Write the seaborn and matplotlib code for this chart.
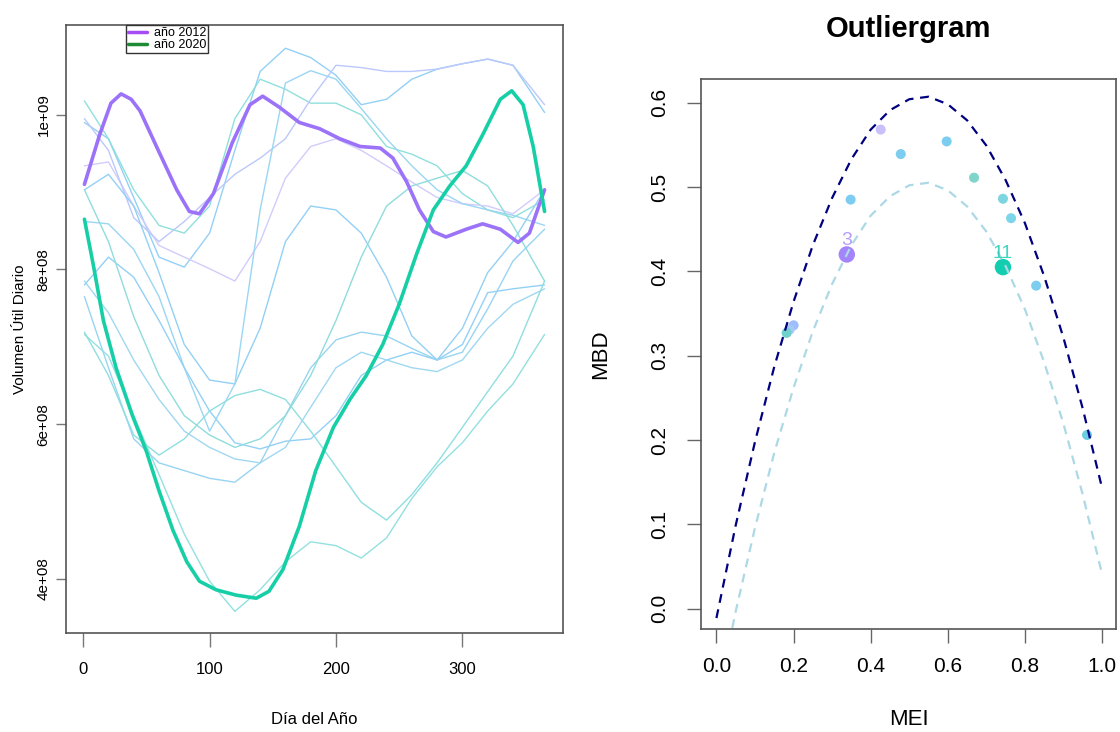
import numpy as np
import pandas as pd
import seaborn as sns
import matplotlib.pyplot as plt
from matplotlib.lines import Line2D

sns.set_theme(style="white")
plt.rcParams['font.family'] = ['Liberation Sans', 'DejaVu Sans']
plt.rcParams['text.color'] = 'black'
plt.rcParams['axes.labelcolor'] = 'black'
plt.rcParams['lines.solid_joinstyle'] = 'round'

# ---- datos: curvas diarias (valores en 1e8) ----
dias = [1, 20, 40, 60, 80, 100, 120, 140, 160, 180, 200, 220, 240, 260, 280, 300, 320, 340, 365]

curvas = {
    'c01': [9.90, 9.69, 8.93, 8.16, 8.03, 8.47, 9.54, 10.56, 10.86, 10.74, 10.51, 10.13, 10.20, 10.46, 10.59, 10.66, 10.72, 10.64, 10.03],
    'c02': [10.18, 9.69, 9.03, 8.57, 8.47, 8.82, 9.95, 10.46, 10.33, 10.15, 10.15, 10.00, 9.59, 9.49, 9.34, 8.98, 8.77, 8.67, 8.90],
    'c03': [9.34, 9.39, 8.82, 8.31, 8.16, 8.01, 7.85, 8.36, 9.18, 9.59, 9.69, 9.54, 9.34, 9.13, 8.93, 8.85, 8.82, 8.72, 9.03],
    'c04': [9.95, 9.54, 8.67, 8.36, 8.62, 8.93, 9.23, 9.44, 9.69, 10.20, 10.64, 10.61, 10.56, 10.56, 10.59, 10.66, 10.72, 10.64, 10.13],
    'c05': [9.03, 9.23, 8.82, 7.96, 7.03, 6.57, 6.52, 7.24, 8.36, 8.82, 8.77, 8.47, 7.90, 7.14, 6.83, 7.03, 7.70, 7.75, 7.80],
    'c06': [8.62, 8.59, 8.26, 7.65, 6.73, 5.91, 6.52, 8.77, 10.41, 10.57, 10.46, 10.08, 9.69, 9.34, 9.03, 8.85, 8.77, 8.70, 8.57],
    'c07': [7.16, 6.88, 6.11, 5.35, 4.58, 3.97, 3.58, 3.86, 4.22, 4.48, 4.43, 4.27, 4.53, 5.04, 5.45, 5.76, 6.17, 6.52, 7.16],
    'c08': [7.65, 6.73, 5.81, 5.50, 5.40, 5.30, 5.25, 5.50, 6.11, 6.73, 7.09, 7.19, 7.14, 6.98, 6.83, 6.93, 7.49, 8.11, 8.52],
    'c09': [7.80, 8.16, 7.90, 7.34, 6.73, 6.17, 5.76, 5.68, 5.78, 5.81, 6.11, 6.63, 6.83, 6.93, 6.83, 7.24, 7.96, 8.36, 9.03],
    'c10': [7.19, 6.63, 5.86, 5.60, 5.81, 6.17, 6.37, 6.45, 6.32, 5.91, 5.45, 4.99, 4.76, 5.09, 5.50, 5.96, 6.42, 6.88, 7.85],
    'c11': [7.85, 7.44, 6.83, 6.32, 5.91, 5.70, 5.55, 5.50, 5.70, 6.22, 6.73, 6.93, 6.83, 6.73, 6.68, 6.83, 7.24, 7.55, 7.75],
    'c12': [9.03, 8.36, 7.39, 6.63, 6.11, 5.86, 5.70, 5.81, 6.11, 6.63, 7.34, 8.16, 8.82, 9.08, 9.18, 9.28, 9.08, 8.57, 7.85],
}
colores_curvas = {
    'c01': '#93d0f5', 'c02': '#8fe0dc', 'c03': '#d2ccfc', 'c04': '#bcc8fb',
    'c05': '#93d0f5', 'c06': '#9ad6f3', 'c07': '#93e0e0', 'c08': '#98d4f2',
    'c09': '#93d0f5', 'c10': '#8fdee0', 'c11': '#9fd8f0', 'c12': '#8fdcdc',
}

dias_2012 = [1, 13, 22, 30, 38, 45, 58, 74, 84, 92, 103, 118, 132, 142, 155, 171, 187, 203, 219, 235, 245, 256, 266, 277, 287, 303, 316, 330, 344, 353, 365]
vol_2012 = [9.10, 9.74, 10.15, 10.27, 10.20, 10.05, 9.59, 9.03, 8.75, 8.72, 8.98, 9.64, 10.13, 10.24, 10.10, 9.90, 9.82, 9.69, 9.59, 9.57, 9.44, 9.13, 8.77, 8.49, 8.42, 8.52, 8.59, 8.52, 8.35, 8.47, 9.03]

dias_2020 = [1, 8, 16, 26, 39, 50, 60, 71, 82, 92, 105, 121, 137, 147, 158, 171, 184, 198, 211, 224, 237, 250, 264, 277, 290, 303, 316, 330, 339, 348, 356, 365]
vol_2020 = [8.65, 8.06, 7.34, 6.73, 6.11, 5.65, 5.14, 4.63, 4.22, 3.97, 3.86, 3.79, 3.75, 3.84, 4.12, 4.68, 5.40, 5.96, 6.32, 6.63, 7.03, 7.55, 8.21, 8.77, 9.08, 9.34, 9.74, 10.20, 10.31, 10.13, 9.59, 8.75]

# ---- datos: outliergram ----
mei_lim = [0.0, 0.05, 0.1, 0.15, 0.2, 0.25, 0.3, 0.35, 0.4, 0.45, 0.5, 0.55, 0.6, 0.65, 0.7, 0.75, 0.8, 0.85, 0.9, 0.95, 1.0]
mbd_sup = [-0.011, 0.099, 0.198, 0.287, 0.364, 0.431, 0.487, 0.533, 0.568, 0.591, 0.604, 0.607, 0.598, 0.579, 0.549, 0.508, 0.457, 0.394, 0.321, 0.237, 0.143]
mbd_inf = [-0.113, -0.003, 0.096, 0.185, 0.262, 0.329, 0.385, 0.431, 0.466, 0.489, 0.502, 0.505, 0.496, 0.477, 0.447, 0.406, 0.355, 0.292, 0.219, 0.135, 0.041]

mei_pts = [0.426, 0.478, 0.597, 0.348, 0.668, 0.743, 0.764, 0.829, 0.200, 0.190, 0.182, 0.961, 0.338, 0.743]
mbd_pts = [0.568, 0.539, 0.554, 0.485, 0.511, 0.486, 0.463, 0.383, 0.336, 0.331, 0.327, 0.206, 0.420, 0.405]
col_pts = ['#c9c0fa', '#7dcdf0', '#7dcdf0', '#7dcdf0', '#7fd5ca', '#7dd5e0', '#7dd5ea', '#7dcdf0',
           '#9dbdfc', '#a6c8f6', '#6fd0cc', '#6ccce4', '#a384fa', '#12cdb0']
etiquetas = {12: '3', 13: '11'}

fig = plt.figure(figsize=(11.2, 7.32), dpi=100)
ax1 = fig.add_axes([0.0589, 0.1352, 0.4438, 0.8306])
ax2 = fig.add_axes([0.6259, 0.1407, 0.3705, 0.7514])

# ---- panel izquierdo ----
largo = pd.DataFrame([(k, d, v * 1e8) for k, vals in curvas.items() for d, v in zip(dias, vals)],
                     columns=['curva', 'dia', 'volumen'])
sns.lineplot(data=largo, x='dia', y='volumen', hue='curva', palette=colores_curvas,
             lw=1.0, legend=False, estimator=None, ax=ax1)
sns.lineplot(x=dias_2012, y=np.array(vol_2012) * 1e8, color='#9b72f8', lw=2.6, ax=ax1)
sns.lineplot(x=dias_2020, y=np.array(vol_2020) * 1e8, color='#17cfa6', lw=2.6, ax=ax1)

narrow = ['Liberation Sans Narrow', 'Liberation Sans']
ax1.set_xlim(-13.6, 379.6)
ax1.set_ylim(3.30e8, 11.16e8)
ax1.set_xticks([0, 100, 200, 300])
ax1.set_xticklabels(['0', '100', '200', '300'], family=narrow, fontsize=12)
ax1.set_yticks([4e8, 6e8, 8e8, 1e9])
ax1.set_yticklabels(['4e+08', '6e+08', '8e+08', '1e+09'], rotation=90, va='center', fontsize=11)
ax1.tick_params(axis='x', bottom=True, direction='out', length=10, width=1, color='#777',
                labelcolor='black', pad=11)
ax1.tick_params(axis='y', left=True, direction='out', length=7, width=1, color='#777',
                labelcolor='black', pad=4)
ax1.set_xlabel('Día del Año', family=narrow, fontsize=12, labelpad=25)
ax1.set_ylabel('Volumen Útil Diario', fontsize=11, labelpad=7)
for s in ax1.spines.values():
    s.set_visible(True)
    s.set_color('#555')
    s.set_linewidth(1.2)

manejadores = [Line2D([0], [0], color='#a64cf5', lw=2.5), Line2D([0], [0], color='#1f8a35', lw=2.5)]
leg = ax1.legend(manejadores, ['año 2012', 'año 2020'], loc='upper left', bbox_to_anchor=(0.121, 1.0),
                 borderaxespad=0, labelspacing=0.0, handlelength=1.5, handletextpad=0.6,
                 borderpad=0.15, fancybox=False, framealpha=1,
                 prop={'family': narrow, 'size': 9})
leg.get_frame().set_edgecolor('#333')
leg.get_frame().set_linewidth(1.0)

# ---- panel derecho ----
sns.lineplot(x=mei_lim, y=mbd_sup, color='#000080', lw=1.6, linestyle=(0, (4, 3)), ax=ax2)
sns.lineplot(x=mei_lim, y=mbd_inf, color='#add8e6', lw=1.6, linestyle=(0, (4, 3)), ax=ax2)
pts = pd.DataFrame({'mei': mei_pts, 'mbd': mbd_pts, 'id': [str(i) for i in range(len(mei_pts))]})
tam = [52] * 12 + [140, 140]
sns.scatterplot(data=pts, x='mei', y='mbd', hue='id', palette=dict(zip(pts['id'], col_pts)),
                size='id', sizes=dict(zip(pts['id'], tam)), legend=False, edgecolor='none', ax=ax2)
for i, txt in etiquetas.items():
    ax2.annotate(txt, (mei_pts[i], mbd_pts[i]), xytext=(0, 10), textcoords='offset points',
                 ha='center', va='center', fontsize=14, color=col_pts[i], alpha=0.8)

ax2.set_xlim(-0.04, 1.036)
ax2.set_ylim(-0.024, 0.628)
ax2.set_xticks([0.0, 0.2, 0.4, 0.6, 0.8, 1.0])
ax2.set_xticklabels(['0.0', '0.2', '0.4', '0.6', '0.8', '1.0'], fontsize=15)
ax2.set_yticks([0.0, 0.1, 0.2, 0.3, 0.4, 0.5, 0.6])
ax2.set_yticklabels(['0.0', '0.1', '0.2', '0.3', '0.4', '0.5', '0.6'], rotation=90, va='center', fontsize=15)
ax2.tick_params(axis='x', bottom=True, direction='out', length=10, width=1, color='#666',
                labelcolor='black', pad=10)
ax2.tick_params(axis='y', left=True, direction='out', length=10, width=1, color='#666',
                labelcolor='black', pad=13)
ax2.set_xlabel('MEI', fontsize=16, labelpad=24)
ax2.set_ylabel('MBD', fontsize=16, labelpad=28)
ax2.set_title('Outliergram', fontsize=21, fontweight='bold', pad=30)
for s in ax2.spines.values():
    s.set_visible(True)
    s.set_color('#555')
    s.set_linewidth(1.2)

fig.savefig('out.png', dpi=100)
